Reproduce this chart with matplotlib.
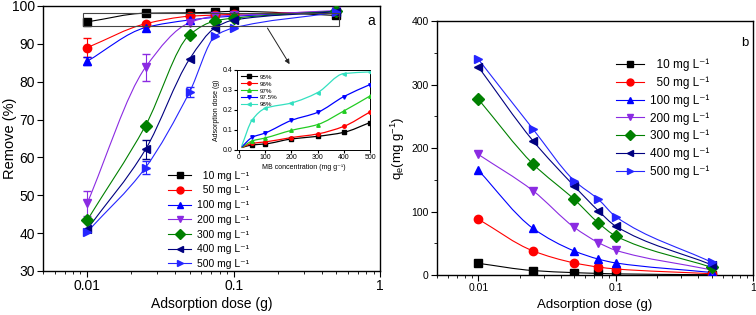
import numpy as np
import matplotlib
matplotlib.use("Agg")
import matplotlib.pyplot as plt
from matplotlib.path import Path
from matplotlib.patches import PathPatch, Rectangle
from matplotlib.lines import Line2D

plt.rcParams['font.family'] = ['Liberation Sans', 'DejaVu Sans']
plt.rcParams['mathtext.default'] = 'regular'

# ---- data ----
doses = [0.01, 0.025, 0.05, 0.075, 0.1, 0.5]
conc_labels = ['  10 mg L\u207b\u00b9', '  50 mg L\u207b\u00b9', '100 mg L\u207b\u00b9', '200 mg L\u207b\u00b9',
               '300 mg L\u207b\u00b9', '400 mg L\u207b\u00b9', '500 mg L\u207b\u00b9']
colors = ['#000000', '#ff0000', '#0000ff', '#8b2be2', '#008000', '#000080', '#2525ff']
markers = ['s', 'o', '^', 'v', 'D', '<', '>']

remove_10 = [95.8, 98.1, 98.2, 98.4, 98.6, 97.5]
remove_50 = [89.0, 95.3, 97.3, 97.6, 97.8, 98.5]
remove_100 = [85.4, 94.3, 96.3, 97.0, 97.3, 98.6]
remove_200 = [47.9, 83.8, 95.6, 97.3, 97.5, 98.8]
remove_300 = [43.4, 68.4, 92.4, 96.1, 96.8, 98.6]
remove_400 = [41.0, 62.1, 86.0, 94.3, 96.3, 98.5]
remove_500 = [40.3, 57.3, 77.3, 92.1, 94.2, 98.3]
remove_all = [remove_10, remove_50, remove_100, remove_200, remove_300, remove_400, remove_500]

err_10 = [0, 0, 0, 0, 0, 0]
err_50 = [2.5, 0, 0, 0, 0, 0]
err_100 = [1.0, 0, 0, 0, 0, 0]
err_200 = [3.3, 3.5, 0, 0, 0, 0]
err_300 = [0, 0, 0, 0, 0, 0]
err_400 = [0, 2.5, 0, 0, 0, 0]
err_500 = [0, 1.7, 1.3, 0, 0, 0]
err_all = [err_10, err_50, err_100, err_200, err_300, err_400, err_500]

qe_10 = [18.4, 7.0, 3.7, 2.5, 1.8, 0.4]
qe_50 = [88, 38, 19, 12.5, 9.5, 2]
qe_100 = [165, 73.5, 37.8, 25, 19, 4]
qe_200 = [190, 132.8, 75, 51, 39, 8]
qe_300 = [277, 175, 119, 82, 61.5, 12]
qe_400 = [328, 211.5, 140, 101, 77, 16]
qe_500 = [340, 230, 148.5, 119, 92, 20]
qe_all = [qe_10, qe_50, qe_100, qe_200, qe_300, qe_400, qe_500]

# inset: adsorption dose needed vs MB concentration
mb_conc = [10, 50, 100, 200, 300, 400, 500]
pct_labels = ['95%', '96%', '97%', '97.5%', '98%']
pct_colors = ['#000000', '#ff0000', '#22cc22', '#0000ff', '#33e0c0']
pct_markers = ['s', 'o', '^', 'v', '<']
dose_95 = [0.012, 0.025, 0.030, 0.055, 0.068, 0.088, 0.137]
dose_96 = [0.012, 0.033, 0.040, 0.062, 0.080, 0.118, 0.190]
dose_97 = [0.012, 0.045, 0.060, 0.098, 0.127, 0.195, 0.270]
dose_975 = [0.015, 0.063, 0.085, 0.148, 0.188, 0.267, 0.327]
dose_98 = [0.020, 0.150, 0.208, 0.235, 0.287, 0.382, 0.390]
dose_all = [dose_95, dose_96, dose_97, dose_975, dose_98]


def smooth_line(ax, x, y, color, logx=True, lw=0.8):
    # monotone cubic (pchip-style) drawn as bezier path
    xs = np.log10(x) if logx else np.asarray(x, float)
    ys = np.asarray(y, float)
    h = np.diff(xs)
    d = np.diff(ys) / h
    m = np.zeros_like(ys)
    m[0], m[-1] = d[0], d[-1]
    for i in range(1, len(ys) - 1):
        if d[i - 1] * d[i] <= 0:
            m[i] = 0
        else:
            w1 = 2 * h[i] + h[i - 1]
            w2 = h[i] + 2 * h[i - 1]
            m[i] = (w1 + w2) / (w1 / d[i - 1] + w2 / d[i])
    verts = [(xs[0], ys[0])]
    codes = [Path.MOVETO]
    for i in range(len(ys) - 1):
        verts += [(xs[i] + h[i] / 3, ys[i] + m[i] * h[i] / 3),
                  (xs[i + 1] - h[i] / 3, ys[i + 1] - m[i + 1] * h[i] / 3),
                  (xs[i + 1], ys[i + 1])]
        codes += [Path.CURVE4] * 3
    verts = np.array(verts)
    if logx:
        verts[:, 0] = 10 ** verts[:, 0]
    ax.add_patch(PathPatch(Path(verts, codes), fc='none', ec=color, lw=lw, zorder=2))


def style_axes(ax, size):
    ax.tick_params(which='both', direction='out', labelsize=size, pad=2)
    ax.tick_params(which='major', length=4)
    ax.tick_params(which='minor', length=2)
    for s in ax.spines.values():
        s.set_linewidth(1.0)


fig = plt.figure(figsize=(7.56, 3.15), dpi=100)

# ---- panel a ----
ax1 = fig.add_axes([0.057, 0.140, 0.446, 0.841])
for vals, errs, c, mk in zip(remove_all, err_all, colors, markers):
    smooth_line(ax1, doses, vals, c)
    e = np.array(errs, float)
    ax1.errorbar(doses, vals, yerr=np.where(e > 0, e, np.nan), fmt=mk, color=c, ms=6,
                 ecolor=c, elinewidth=0.8, capsize=3, zorder=3)
ax1.set_xscale('log')
ax1.set_xlim(0.005, 1)
ax1.set_ylim(30, 100)
ax1.set_xticks([0.01, 0.1, 1])
ax1.set_xticklabels(['0.01', '0.1', '1'])
ax1.set_yticks(range(30, 101, 10))
ax1.set_xlabel('Adsorption dose (g)', fontsize=10, labelpad=3)
ax1.set_ylabel('Remove (%)', fontsize=10.5)
ax1.yaxis.set_label_coords(-0.078, 0.5)
ax1.spines['top'].set_linewidth(2)
style_axes(ax1, 10)
ax1.text(0.985, 0.93, 'a', transform=ax1.transAxes, fontsize=10, ha='right')

ax1.add_patch(Rectangle((0.0094, 94.8), 0.52 - 0.0094, 3.4, fc='none', ec='#444444', lw=0.8, zorder=4))
ax1.annotate('', xy=(0.246, 84.0), xytext=(0.166, 94.8),
             arrowprops=dict(arrowstyle='-|>', color='#222222', lw=0.7, mutation_scale=7))

handles = [Line2D([], [], color=c, marker=mk, ms=5, lw=0.8) for c, mk in zip(colors, markers)]
ax1.legend(handles, conc_labels, loc='lower left', bbox_to_anchor=(0.35, -0.02), frameon=False,
           fontsize=7.5, handlelength=2.2, labelspacing=0.45, borderpad=0.2, handletextpad=0.5)

# inset
axi = fig.add_axes([0.3135, 0.524, 0.176, 0.254])
for vals, c, mk, lab in zip(dose_all, pct_colors, pct_markers, pct_labels):
    smooth_line(axi, mb_conc, vals, c, logx=False, lw=0.9)
    axi.plot(mb_conc[1:], vals[1:], mk, color=c, ms=2.5, zorder=3)
axi.set_xlim(-8, 500)
axi.set_ylim(0, 0.4)
axi.set_xticks(range(0, 501, 100))
axi.set_yticks([0.0, 0.1, 0.2, 0.3, 0.4])
axi.tick_params(labelsize=5, length=2, pad=1)
axi.set_xlabel('MB concentration (mg g\u207b\u00b9)', fontsize=5, labelpad=2)
axi.set_ylabel('Adsorption dose (g)', fontsize=5, labelpad=2)
for s in axi.spines.values():
    s.set_linewidth(0.7)
ih = [Line2D([], [], color=c, marker=mk, ms=2.5, lw=0.8) for c, mk in zip(pct_colors, pct_markers)]
axi.legend(ih, pct_labels, loc='upper left', frameon=False, fontsize=4.5, handlelength=2.5,
           labelspacing=0.25, borderpad=0.2, handletextpad=0.4)

# ---- panel b ----
ax2 = fig.add_axes([0.578, 0.127, 0.418, 0.806])
for vals, c, mk in zip(qe_all, colors, markers):
    smooth_line(ax2, doses, vals, c)
    ax2.plot(doses, vals, mk, color=c, ms=6, zorder=3)
ax2.set_xscale('log')
ax2.set_xlim(0.005, 1)
ax2.set_ylim(0, 400)
ax2.set_xticks([0.01, 0.1, 1])
ax2.set_xticklabels(['0.01', '0.1', '1'])
ax2.set_yticks(range(0, 401, 100))
ax2.set_yticks(range(50, 400, 100), minor=True)
ax2.set_xlabel('Adsorption dose (g)', fontsize=9.5, labelpad=4)
ax2.set_ylabel('q$_e$(mg g$^{-1}$)', fontsize=9.5, labelpad=3)
style_axes(ax2, 7.5)
ax2.text(0.985, 0.9, 'b', transform=ax2.transAxes, fontsize=9.5, ha='right')
handles2 = [Line2D([], [], color=c, marker=mk, ms=5, lw=0.8) for c, mk in zip(colors, markers)]
ax2.legend(handles2, conc_labels, loc='upper left', bbox_to_anchor=(0.54, 0.885), frameon=False,
           fontsize=8.5, handlelength=2.4, labelspacing=0.45, borderpad=0.2, handletextpad=0.5)

fig.savefig('out.png', dpi=100)
